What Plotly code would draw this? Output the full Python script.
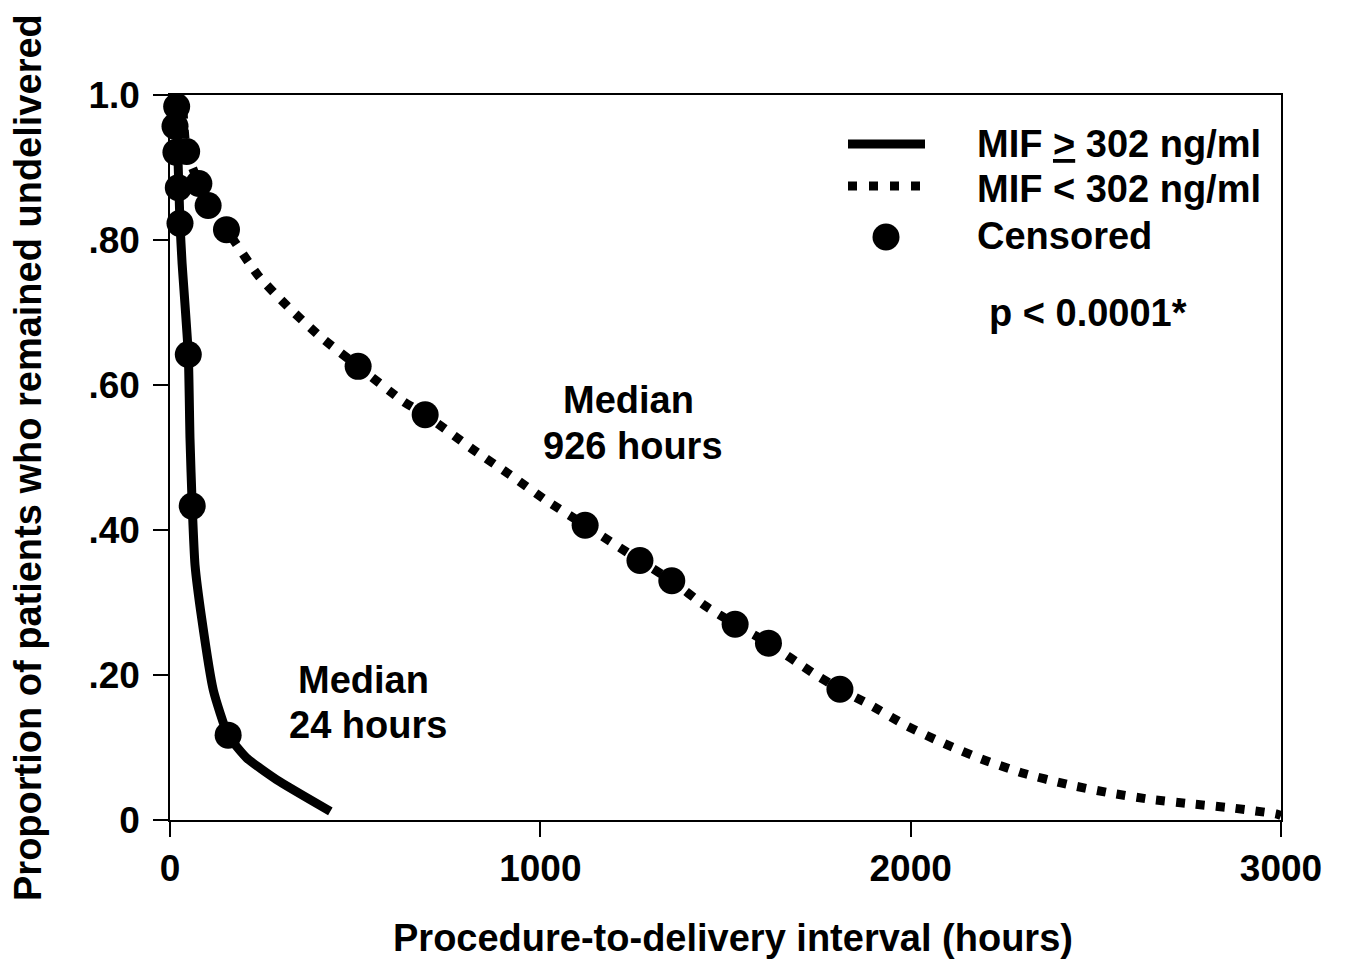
import plotly.graph_objects as go

# ---------------- data ----------------
# MIF >= 302 ng/ml : survival curve path (hours, proportion undelivered)
hi_time = [16, 21.6, 27, 32.4, 49.4, 54, 60, 67.5, 85.6, 117, 157, 207, 288, 433]
hi_surv = [1.0, 0.911, 0.823, 0.770, 0.642, 0.526, 0.433, 0.352, 0.278, 0.179, 0.117, 0.0856, 0.0556, 0.012]
# censored observations, MIF >= 302
hi_cens_time = [18, 13.5, 16, 22.4, 27, 49.4, 60, 157]
hi_cens_surv = [0.984, 0.957, 0.921, 0.872, 0.823, 0.642, 0.433, 0.117]

# MIF < 302 ng/ml : survival curve path
lo_time = [35, 45, 78, 103, 152.5, 238, 319, 405, 508, 630, 689, 819, 918, 1013, 1121, 1269, 1355,
           1445, 1526, 1616, 1737, 1809, 1890, 1989, 2093, 2198, 2304, 2421, 2534, 2646, 2762, 2876, 2987, 3000]
lo_surv = [0.98, 0.922, 0.878, 0.8475, 0.8143, 0.751, 0.7077, 0.667, 0.6257, 0.5774, 0.559, 0.5107, 0.4762,
           0.4417, 0.4065, 0.3579, 0.3299, 0.2954, 0.2701, 0.2439, 0.2025, 0.1804, 0.1588, 0.130, 0.1049,
           0.0828, 0.0645, 0.0493, 0.0377, 0.0286, 0.0221, 0.0161, 0.0083, 0.006]
# censored observations, MIF < 302
lo_cens_time = [45, 78, 103, 152.5, 508, 689, 1121, 1269, 1355, 1526, 1616, 1809]
lo_cens_surv = [0.922, 0.878, 0.8475, 0.8143, 0.6257, 0.559, 0.4065, 0.3579, 0.3299, 0.2701, 0.2439, 0.1804]

x_tickvals = [0, 1000, 2000, 3000]
x_ticktext = ["0", "1000", "2000", "3000"]
y_tickvals = [0, 0.2, 0.4, 0.6, 0.8, 1.0]
y_ticktext = ["0", ".20", ".40", ".60", ".80", "1.0"]

legend_labels = ["MIF <u>&gt;</u> 302 ng/ml", "MIF &lt; 302 ng/ml", "Censored"]
median_hi = ["Median", "24 hours"]
median_lo = ["Median", "926 hours"]
p_text = "p < 0.0001*"

# ---------------- style ----------------
FONT = "Liberation Sans, Arial, sans-serif"
W, H = 1345, 959
L, R, T, B = 170, 64, 95, 139
PW, PH = W - L - R, H - T - B


def px2paper(px, py):
    return (px - L) / PW, (H - B - py) / PH


fig = go.Figure()

fig.add_trace(go.Scatter(x=hi_time, y=hi_surv, mode="lines",
                         line=dict(color="black", width=9, shape="spline", smoothing=0.5),
                         showlegend=False, hoverinfo="skip"))
fig.add_trace(go.Scatter(x=lo_time, y=lo_surv, mode="lines",
                         line=dict(color="black", width=9, dash="9px,11px", shape="spline", smoothing=0.6),
                         showlegend=False, hoverinfo="skip"))
fig.add_trace(go.Scatter(x=hi_cens_time, y=hi_cens_surv, mode="markers",
                         marker=dict(color="black", size=27, line=dict(width=0)),
                         cliponaxis=False, showlegend=False))
fig.add_trace(go.Scatter(x=lo_cens_time, y=lo_cens_surv, mode="markers",
                         marker=dict(color="black", size=27, line=dict(width=0)),
                         cliponaxis=False, showlegend=False))

axis_common = dict(showline=True, linecolor="black", linewidth=1.5, mirror=True,
                   ticks="outside", ticklen=15, tickwidth=1.5, tickcolor="black",
                   showgrid=False, zeroline=False,
                   tickfont=dict(family=FONT, size=37, color="black", weight="bold"))

fig.update_xaxes(range=[0, 3000], tickvals=x_tickvals, ticktext=x_ticktext, **axis_common)
fig.update_yaxes(range=[0, 1.0], tickvals=y_tickvals, ticktext=y_ticktext,
                 ticklabelstandoff=6, **axis_common)

annotations = []
tfont = dict(family=FONT, size=38, color="black", weight="bold")

# axis titles
annotations.append(dict(text="Procedure-to-delivery interval (hours)", xref="paper", yref="paper",
                        x=(733 - L) / PW, y=px2paper(0, 938)[1], showarrow=False,
                        xanchor="center", yanchor="middle", font=tfont))
annotations.append(dict(text="Proportion of patients who remained undelivered", xref="paper", yref="paper",
                        x=px2paper(28, 0)[0], y=px2paper(0, 458)[1], showarrow=False, textangle=-90,
                        xanchor="center", yanchor="middle", font=tfont))

# median labels
for txt, (cx, cy) in zip(median_hi, [(363, 680), (368, 725)]):
    xp, yp = px2paper(cx, cy)
    annotations.append(dict(text=txt, xref="paper", yref="paper", x=xp, y=yp, showarrow=False,
                            xanchor="center", yanchor="middle", font=tfont))
for txt, (cx, cy) in zip(median_lo, [(628, 400), (633, 446)]):
    xp, yp = px2paper(cx, cy)
    annotations.append(dict(text=txt, xref="paper", yref="paper", x=xp, y=yp, showarrow=False,
                            xanchor="center", yanchor="middle", font=tfont))
xp, yp = px2paper(1088, 313)
annotations.append(dict(text=p_text.replace("<", "&lt;"), xref="paper", yref="paper", x=xp, y=yp,
                        showarrow=False, xanchor="center", yanchor="middle", font=tfont))

# legend
for txt, cy in zip(legend_labels, [144, 189, 236]):
    xp, yp = px2paper(975, cy)
    annotations.append(dict(text=txt, xref="paper", yref="paper", x=xp, y=yp, showarrow=False,
                            xanchor="left", yanchor="middle", font=tfont))

shapes = []
x0p, y1p = px2paper(848, 144)
x1p, _ = px2paper(925, 144)
shapes.append(dict(type="line", xref="paper", yref="paper", x0=x0p, x1=x1p, y0=y1p, y1=y1p,
                   line=dict(color="black", width=9)))
_, y2p = px2paper(0, 186)
x1d, _ = px2paper(928, 186)
shapes.append(dict(type="line", xref="paper", yref="paper", x0=x0p, x1=x1d, y0=y2p, y1=y2p,
                   line=dict(color="black", width=9, dash="9px,12px")))
cxp, cyp = px2paper(886, 237)
shapes.append(dict(type="circle", xref="paper", yref="paper", xsizemode="pixel", ysizemode="pixel",
                   xanchor=cxp, yanchor=cyp, x0=-13.5, x1=13.5, y0=-13.5, y1=13.5,
                   fillcolor="black", line=dict(width=0)))

fig.update_layout(width=W, height=H, margin=dict(l=L, r=R, t=T, b=B, autoexpand=False),
                  paper_bgcolor="white", plot_bgcolor="white",
                  annotations=annotations, shapes=shapes, showlegend=False,
                  font=dict(family=FONT, color="black"))

fig.write_html("out.html")
